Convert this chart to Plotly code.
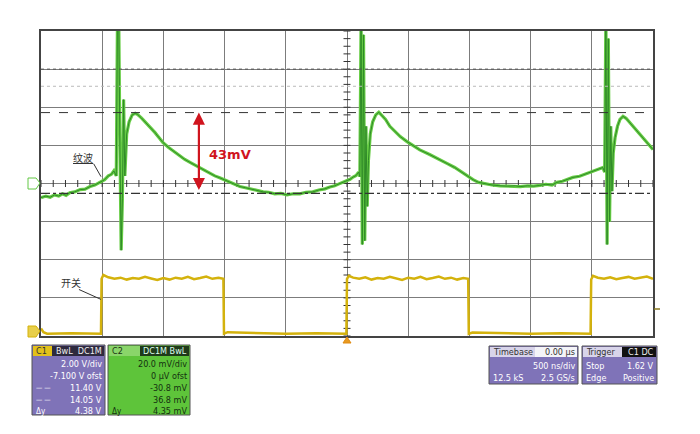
import numpy as np
import plotly.graph_objects as go

# trace values in screen divisions (10 x 8 grid, 0 at the centre line)
green_t = [
    0.00, 0.08, 0.15, 0.22, 0.29, 0.35, 0.41, 0.47, 0.55, 0.64,
    0.72, 0.80, 0.88, 0.96, 1.04, 1.10, 1.15, 1.19, 1.23, 1.25,
    1.27, 1.29, 1.31, 1.33, 1.35, 1.37, 1.40, 1.44, 1.49, 1.54,
    1.58, 1.64, 1.70, 1.78, 1.86, 1.93, 1.99, 2.08, 2.19, 2.27,
    2.35, 2.45, 2.55, 2.66, 2.76, 2.84, 2.92, 3.00, 3.09, 3.17,
    3.25, 3.34, 3.42, 3.52, 3.63, 3.72, 3.82, 3.92, 4.02, 4.12,
    4.23, 4.33, 4.44, 4.54, 4.64, 4.72, 4.80, 4.87, 4.93, 5.00,
    5.05, 5.10, 5.15, 5.19, 5.21, 5.23, 5.25, 5.27, 5.29, 5.31,
    5.33, 5.35, 5.38, 5.42, 5.47, 5.52, 5.57, 5.63, 5.70, 5.78,
    5.87, 5.98, 6.08, 6.19, 6.35, 6.52, 6.64, 6.76, 6.90, 7.06,
    7.15, 7.25, 7.37, 7.50, 7.62, 7.75, 7.83, 7.95, 8.05, 8.15,
    8.25, 8.35, 8.43, 8.52, 8.60, 8.69, 8.80, 8.90, 8.97, 9.05,
    9.13, 9.18, 9.21, 9.23, 9.25, 9.27, 9.29, 9.31, 9.33, 9.35,
    9.38, 9.42, 9.46, 9.51, 9.56, 9.62, 9.70, 9.79, 9.90, 10.0,
]
green_v = [
    -0.37, -0.33, -0.36, -0.30, -0.33, -0.27, -0.31, -0.24, -0.22, -0.16,
    -0.15, -0.08, -0.04, 0.04, 0.10, 0.20, 0.24, 0.33, 0.20, 4.4,
    4.4, 0.9, -1.75, -0.4, 2.2, 0.2, 1.30, 1.62, 1.80, 1.84,
    1.81, 1.72, 1.62, 1.48, 1.34, 1.20, 1.08, 0.95, 0.81, 0.72,
    0.63, 0.54, 0.45, 0.35, 0.26, 0.20, 0.15, 0.09, 0.03, -0.03,
    -0.08, -0.11, -0.14, -0.17, -0.22, -0.23, -0.27, -0.26, -0.30, -0.27,
    -0.27, -0.23, -0.22, -0.17, -0.14, -0.09, -0.06, -0.01, 0.03, 0.08,
    0.11, 0.17, 0.21, 0.30, 0.18, 4.3, -1.6, 3.9, -1.5, 1.5,
    -0.6, 0.6, 1.30, 1.62, 1.80, 1.87, 1.78, 1.68, 1.50, 1.38,
    1.23, 1.10, 0.99, 0.88, 0.76, 0.63, 0.52, 0.42, 0.26, 0.10,
    0.03, -0.01, -0.04, -0.06, -0.07, -0.06, -0.08, -0.06, -0.07, -0.05,
    -0.02, -0.04, 0.03, 0.06, 0.10, 0.16, 0.19, 0.25, 0.28, 0.33,
    0.37, 0.42, 0.30, 4.4, -1.6, 3.8, -1.0, 1.5, -0.2, 0.8,
    1.20, 1.50, 1.68, 1.76, 1.71, 1.60, 1.45, 1.29, 1.10, 0.89,
]

yellow_t = [
    0.00, 0.04, 0.10, 0.50, 0.98, 0.99, 1.02, 1.10, 1.20, 1.30,
    1.40, 1.50, 1.60, 1.70, 1.80, 1.90, 2.00, 2.10, 2.20, 2.30,
    2.40, 2.50, 2.60, 2.70, 2.80, 2.90, 2.98, 2.99, 3.05, 4.00,
    4.50, 4.99, 5.00, 5.03, 5.10, 5.20, 5.30, 5.40, 5.50, 5.60,
    5.70, 5.80, 5.90, 6.00, 6.10, 6.20, 6.30, 6.40, 6.50, 6.60,
    6.70, 6.80, 6.90, 6.98, 6.99, 7.05, 8.00, 8.50, 8.98, 8.99,
    9.02, 9.10, 9.20, 9.30, 9.40, 9.50, 9.60, 9.70, 9.80, 9.90,
    10.0,
]
yellow_v = [
    -3.80, -3.90, -3.94, -3.93, -3.94, -2.50, -2.40, -2.46, -2.50, -2.47,
    -2.52, -2.48, -2.50, -2.45, -2.49, -2.53, -2.48, -2.52, -2.47, -2.50,
    -2.45, -2.51, -2.48, -2.44, -2.50, -2.47, -2.50, -3.94, -3.90, -3.94,
    -3.93, -3.94, -2.50, -2.42, -2.47, -2.50, -2.46, -2.52, -2.48, -2.50,
    -2.45, -2.50, -2.53, -2.47, -2.50, -2.45, -2.51, -2.48, -2.44, -2.50,
    -2.47, -2.52, -2.48, -2.50, -3.94, -3.91, -3.94, -3.93, -3.94, -2.52,
    -2.42, -2.47, -2.50, -2.46, -2.51, -2.48, -2.45, -2.50, -2.47, -2.44,
    -2.50,
]

cursor_hi = 1.86
cursor_lo = -0.26
ripple_label = "43mV"

# page body has an 8px margin, so the figure is drawn 8px in from the window edge
OFF = 8
W, H = 700 - OFF, 434 - OFF
L, T = 41 - OFF, 31 - OFF
R, B = 700 - 653, 434 - 336
PW, PH = W - L - R, H - T - B


def px(x):
    return (x - OFF - L) / PW


def py(y):
    return (336 - y) / PH


fig = go.Figure()

# centre-cross tick marks
ticks = np.round(np.arange(0, 10.01, 0.2), 2)
fig.add_trace(go.Scatter(x=ticks, y=[0] * len(ticks), mode="markers",
                         marker=dict(symbol="line-ns", size=5, line=dict(width=1, color="#333")),
                         hoverinfo="skip"))
vt = np.round(np.arange(-4, 4.01, 0.2), 2)
fig.add_trace(go.Scatter(x=[5] * len(vt), y=vt, mode="markers",
                         marker=dict(symbol="line-ew", size=5, line=dict(width=1, color="#333")),
                         hoverinfo="skip"))

# cursors
fig.add_hline(y=cursor_hi, line=dict(color="#333", width=1, dash="dash"))
fig.add_hline(y=cursor_lo, line=dict(color="#333", width=1.2, dash="dashdot"))
fig.add_hline(y=2.55, line=dict(color="#bbb", width=1, dash="dot"))
fig.add_hline(y=3.0, line=dict(color="#555", width=1, dash="dot"))

fig.add_trace(go.Scatter(x=yellow_t, y=yellow_v, mode="lines",
                         line=dict(color="#D4B20C", width=2.5), hoverinfo="skip"))
fig.add_trace(go.Scatter(x=green_t, y=green_v, mode="lines",
                         line=dict(color="#66CC44", width=3.2), hoverinfo="skip"))
fig.add_trace(go.Scatter(x=green_t, y=green_v, mode="lines",
                         line=dict(color="#2F8A28", width=1), hoverinfo="skip"))

# ripple arrow
fig.add_annotation(x=2.58, y=cursor_hi, ax=2.58, ay=cursor_lo + 0.05, xref="x", yref="y",
                   axref="x", ayref="y", text="", showarrow=True, arrowhead=2,
                   arrowside="end+start", arrowsize=1.1, arrowwidth=2.2, arrowcolor="#D0141E")
fig.add_annotation(x=2.72, y=0.76, text="<b>" + ripple_label + "</b>", showarrow=False,
                   xanchor="left", font=dict(family="DejaVu Sans", size=13, color="#D0141E"))

# channel labels
fig.add_annotation(x=0.69, y=0.68, text="<u>纹波</u>", showarrow=False,
                   font=dict(family="Noto Sans CJK SC", size=10, color="#333"))
fig.add_shape(type="line", x0=0.86, y0=0.52, x1=0.98, y1=0.18, line=dict(color="#333", width=1))
fig.add_annotation(x=0.49, y=-2.6, text="开关", showarrow=False,
                   font=dict(family="Noto Sans CJK SC", size=10, color="#333"))
fig.add_shape(type="line", x0=0.62, y0=-2.78, x1=0.98, y1=-3.04, line=dict(color="#333", width=1))

# channel / trigger markers around the grid
fig.add_shape(type="path", xref="paper", yref="paper",
              path=f"M {px(28)},{py(178)} L {px(36)},{py(178)} L {px(40)},{py(183)} "
                   f"L {px(36)},{py(189)} L {px(28)},{py(189)} Z",
              line=dict(color="#62C844", width=1), fillcolor="white")
fig.add_shape(type="path", xref="paper", yref="paper",
              path=f"M {px(28)},{py(326)} L {px(36)},{py(326)} L {px(40)},{py(331)} "
                   f"L {px(36)},{py(337)} L {px(28)},{py(337)} Z",
              line=dict(color="#D4B20C", width=1), fillcolor="#E8CF4A")
fig.add_shape(type="path", xref="paper", yref="paper",
              path=f"M {px(343)},{py(343)} L {px(351)},{py(343)} L {px(347)},{py(337)} Z",
              line=dict(color="#E08A10", width=1), fillcolor="#E89A20")
fig.add_shape(type="line", xref="paper", yref="paper", x0=px(654), y0=py(309), x1=px(660), y1=py(309),
              line=dict(color="#8a7a20", width=1.5))


def box(x0, x1, y0, y1, fill, head_fill, head_h=11):
    fig.add_shape(type="rect", xref="paper", yref="paper", x0=px(x0), x1=px(x1), y0=py(y1), y1=py(y0),
                  fillcolor=fill, line=dict(color="#555", width=1))
    fig.add_shape(type="rect", xref="paper", yref="paper", x0=px(x0 + 1), x1=px(x1 - 1),
                  y0=py(y0 + head_h), y1=py(y0 + 1), fillcolor=head_fill, line=dict(width=0))


def txt(x, y, s, color="white", anchor="right", size=9):
    fig.add_annotation(xref="paper", yref="paper", x=px(x), y=py(y), text=s, showarrow=False,
                       xanchor=anchor, yanchor="middle", borderpad=0,
                       font=dict(family="Liberation Sans Narrow, Arial Narrow, DejaVu Sans Condensed",
                                 size=size, color=color))


# C1 box
box(32, 105, 345, 415, "#7F73B8", "#2E2A3E")
fig.add_shape(type="rect", xref="paper", yref="paper", x0=px(33), x1=px(52), y0=py(356), y1=py(346),
              fillcolor="#E3C11A", line=dict(width=0))
txt(35, 351, "C1", color="#333", anchor="left")
txt(103, 351, "BwL  DC1M", color="#eee")
txt(103, 364, "2.00 V/div")
txt(103, 376, "-7.100 V ofst")
txt(103, 388, "11.40 V")
txt(103, 400, "14.05 V")
txt(103, 411, "4.38 V")
txt(35, 388, "— —", anchor="left", size=7)
txt(35, 400, "— —", anchor="left", size=7)
txt(35, 411, "Δy", anchor="left", size=8)

# C2 box
box(108, 190, 345, 415, "#5EC43A", "#8AD56A")
fig.add_shape(type="rect", xref="paper", yref="paper", x0=px(140), x1=px(189), y0=py(356), y1=py(346),
              fillcolor="#1F3A1A", line=dict(width=0))
txt(111, 351, "C2", color="#1b3314", anchor="left")
txt(188, 351, "DC1M BwL", color="#dfe")
txt(188, 364, "20.0 mV/div", color="#143010")
txt(188, 376, "0 μV ofst", color="#143010")
txt(188, 388, "-30.8 mV", color="#143010")
txt(188, 400, "36.8 mV", color="#143010")
txt(188, 411, "4.35 mV", color="#143010")
txt(111, 411, "Δy", color="#143010", anchor="left", size=8)

# timebase box
box(489, 578, 346, 384, "#7F73B8", "#D8D4EA")
fig.add_shape(type="rect", xref="paper", yref="paper", x0=px(535), x1=px(577), y0=py(357), y1=py(347),
              fillcolor="#F4F4F8", line=dict(width=0))
txt(492, 352, "Timebase", color="#333", anchor="left")
txt(576, 352, "0.00 μs", color="#333")
txt(576, 366, "500 ns/div")
txt(492, 378, "12.5 kS", anchor="left")
txt(576, 378, "2.5 GS/s")

# trigger box
box(582, 657, 346, 384, "#7F73B8", "#D8D4EA")
fig.add_shape(type="rect", xref="paper", yref="paper", x0=px(622), x1=px(656), y0=py(357), y1=py(347),
              fillcolor="#111", line=dict(width=0))
txt(585, 352, "Trigger", color="#333", anchor="left")
txt(655, 352, "C1 DC", color="#eee")
txt(585, 366, "Stop", anchor="left")
txt(655, 366, "1.62 V")
txt(585, 378, "Edge", anchor="left")
txt(655, 378, "Positive")

fig.update_layout(
    width=W, height=H,
    margin=dict(l=L, r=R, t=T, b=B),
    paper_bgcolor="white", plot_bgcolor="white",
    showlegend=False,
)
fig.update_xaxes(range=[0, 10], dtick=1, showticklabels=False, ticks="",
                 showgrid=True, gridcolor="#7c7c7c", gridwidth=1, zeroline=False,
                 showline=True, mirror=True, linecolor="#444", linewidth=1.5, fixedrange=True)
fig.update_yaxes(range=[-4, 4], dtick=1, showticklabels=False, ticks="",
                 showgrid=True, gridcolor="#7c7c7c", gridwidth=1, zeroline=False,
                 showline=True, mirror=True, linecolor="#444", linewidth=1.5, fixedrange=True)

fig.write_html("out.html")
